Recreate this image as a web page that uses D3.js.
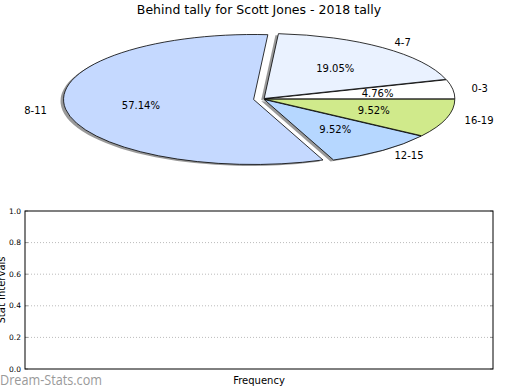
<!DOCTYPE html>
<html>
<head>
<meta charset="utf-8">
<script src="https://cdn.jsdelivr.net/npm/d3@7"></script>
<style>
  body { margin: 0; background: #fff; }
  text { font-family: "DejaVu Sans", sans-serif; fill: #000; }
</style>
</head>
<body>
<div id="chart"></div>
<script>
// data
var labels = ["0-3", "4-7", "8-11", "12-15", "16-19"];
var counts = [1, 4, 12, 2, 2];
var colors = ["#ffffff", "#eaf2ff", "#c5d9ff", "#b6d7ff", "#d0ea8b"];
var explode = [0.01, 0.01, 0.05, 0.01, 0.01];
var yTicks = [0, 0.2, 0.4, 0.6, 0.8, 1.0];

var width = 520, height = 390;

var svg = d3.select("#chart")
  .append("svg")
  .attr("width", width)
  .attr("height", height);

// title
svg.append("text")
  .attr("x", 259)
  .attr("y", 14)
  .attr("text-anchor", "middle")
  .style("font-size", "12.5px")
  .text("Behind tally for Scott Jones - 2018 tally");

// pie (matplotlib style: start at 3 o'clock, counter-clockwise, squashed)
var cx = 263, cy = 99, rx = 190, ry = 65;

var pie = d3.pie()
  .sort(null)
  .startAngle(Math.PI / 2)
  .endAngle(Math.PI / 2 - 2 * Math.PI);

var arcs = pie(counts);
var total = d3.sum(counts);

var arc = d3.arc().innerRadius(0).outerRadius(1);

function offset(d, k) {
  var a = (d.startAngle + d.endAngle) / 2;
  return [Math.sin(a) * k, -Math.cos(a) * k];
}

var pieG = svg.append("g");

// shadows first
pieG.selectAll("g.shadow")
  .data(arcs)
  .enter().append("g")
  .attr("class", "shadow")
  .attr("transform", function(d, i) {
    var o = offset(d, explode[i]);
    return "translate(" + (cx + o[0] * rx - 3) + "," + (cy + o[1] * ry + 1.5) + ") scale(" + rx + "," + ry + ")";
  })
  .append("path")
  .attr("d", arc)
  .attr("fill", "#555")
  .attr("fill-opacity", 0.6);

// wedges
pieG.selectAll("g.wedge")
  .data(arcs)
  .enter().append("g")
  .attr("class", "wedge")
  .attr("transform", function(d, i) {
    var o = offset(d, explode[i]);
    return "translate(" + (cx + o[0] * rx) + "," + (cy + o[1] * ry) + ") scale(" + rx + "," + ry + ")";
  })
  .append("path")
  .attr("d", arc)
  .attr("fill", function(d, i) { return colors[i]; })
  .attr("stroke", "#000")
  .attr("stroke-width", 0.8)
  .attr("vector-effect", "non-scaling-stroke");

// outer labels
pieG.selectAll("text.label")
  .data(arcs)
  .enter().append("text")
  .attr("class", "label")
  .attr("x", function(d, i) { return cx + offset(d, explode[i] + 1.1)[0] * rx; })
  .attr("y", function(d, i) { return cy + offset(d, explode[i] + 1.1)[1] * ry; })
  .attr("dy", "0.35em")
  .attr("text-anchor", function(d) {
    var a = (d.startAngle + d.endAngle) / 2;
    return Math.sin(a) > 0 ? "start" : "end";
  })
  .style("font-size", "10px")
  .text(function(d, i) { return labels[i]; });

// percentage labels
pieG.selectAll("text.pct")
  .data(arcs)
  .enter().append("text")
  .attr("class", "pct")
  .attr("x", function(d, i) { return cx + offset(d, explode[i] + 0.6)[0] * rx; })
  .attr("y", function(d, i) { return cy + offset(d, explode[i] + 0.6)[1] * ry; })
  .attr("dy", "0.35em")
  .attr("text-anchor", "middle")
  .style("font-size", "10px")
  .text(function(d) { return (d.value / total * 100).toFixed(2) + "%"; });

// empty frequency axes below
var x0 = 25, x1 = 493, y0 = 369, y1 = 211;

var yScale = d3.scaleLinear()
  .domain([0, 1])
  .range([y0, y1]);

var axesG = svg.append("g");

// dotted grid
axesG.selectAll("line.grid")
  .data(yTicks.slice(1, -1))
  .enter().append("line")
  .attr("class", "grid")
  .attr("x1", x0)
  .attr("x2", x1)
  .attr("y1", function(d) { return yScale(d); })
  .attr("y2", function(d) { return yScale(d); })
  .attr("stroke", "#bbb")
  .attr("stroke-width", 1)
  .attr("stroke-dasharray", "1,2");

// small gray ticks inside at both sides
axesG.selectAll("line.tickl")
  .data(yTicks)
  .enter().append("line")
  .attr("x1", x0)
  .attr("x2", x0 + 3)
  .attr("y1", function(d) { return yScale(d); })
  .attr("y2", function(d) { return yScale(d); })
  .attr("stroke", "#999");

axesG.selectAll("line.tickr")
  .data(yTicks)
  .enter().append("line")
  .attr("x1", x1 - 3)
  .attr("x2", x1)
  .attr("y1", function(d) { return yScale(d); })
  .attr("y2", function(d) { return yScale(d); })
  .attr("stroke", "#999");

axesG.append("rect")
  .attr("x", x0)
  .attr("y", y1)
  .attr("width", x1 - x0)
  .attr("height", y0 - y1)
  .attr("fill", "none")
  .attr("stroke", "#000")
  .attr("stroke-width", 1);

// tick labels
axesG.selectAll("text.ytick")
  .data(yTicks)
  .enter().append("text")
  .attr("class", "ytick")
  .attr("x", x0 - 4)
  .attr("y", function(d) { return yScale(d); })
  .attr("dy", "0.35em")
  .attr("text-anchor", "end")
  .style("font-size", "7.5px")
  .text(function(d) { return d.toFixed(1); });

// axis labels
svg.append("text")
  .attr("transform", "translate(5," + ((y0 + y1) / 2) + ") rotate(-90)")
  .attr("text-anchor", "middle")
  .style("font-size", "10px")
  .text("Stat Intervals");

svg.append("text")
  .attr("x", (x0 + x1) / 2)
  .attr("y", 384)
  .attr("text-anchor", "middle")
  .style("font-size", "10px")
  .text("Frequency");

// watermark
svg.append("text")
  .attr("x", 0)
  .attr("y", 384.5)
  .attr("textLength", 102)
  .attr("lengthAdjust", "spacingAndGlyphs")
  .style("font-family", "'Open Sans', sans-serif")
  .style("font-size", "14px")
  .style("fill", "#9a9a9a")
  .text("Dream-Stats.com");
</script>
</body>
</html>
